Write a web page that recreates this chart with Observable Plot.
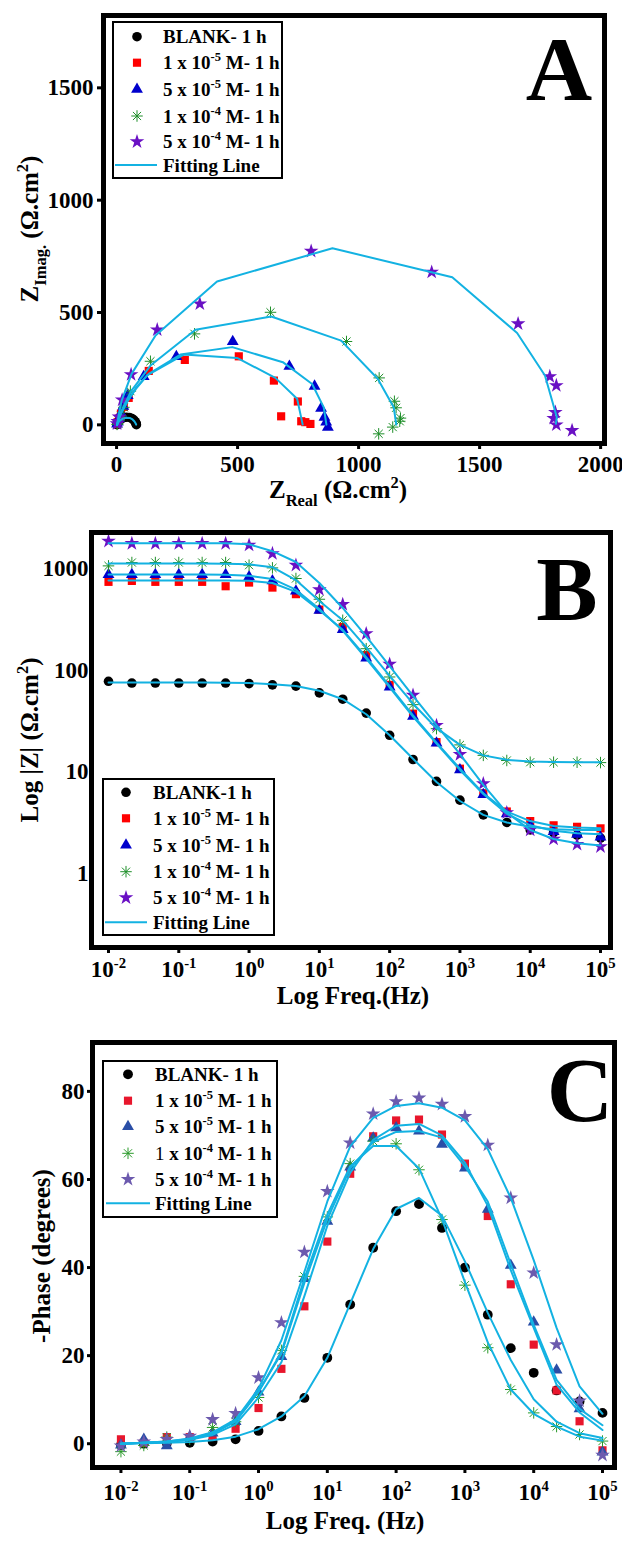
<!DOCTYPE html>
<html><head><meta charset="utf-8">
<script src="https://cdn.jsdelivr.net/npm/d3@7"></script>
<script src="https://cdn.jsdelivr.net/npm/@observablehq/plot@0.6"></script>
<style>
body{margin:0;background:#fff;}
#root{width:622px;}
#root svg{display:block;}
</style></head><body><div id="root"></div>
<script>
// ================= DATA =================
// ---- Panel A : Nyquist (Z real / Z imag, ohm.cm2) ----
const nyqBlankRe = [2, 3, 4, 6, 10, 17, 27, 40, 53, 64, 72, 77, 80, 81, 82];
const nyqBlankIm = [1, 3, 6, 11, 18, 25, 31, 34, 33, 28, 21, 14, 8, 4, 1];
const fitBlankRe = [2, 4, 8, 15, 26, 40, 54, 66, 74, 79, 81];
const fitBlankIm = [0, 5, 12, 20, 28, 32, 31, 24, 15, 6, 1];

const nyqR1Re = [2, 5, 10, 18, 30, 50, 133, 282, 505, 650, 749, 680, 763, 780, 801];
const nyqR1Im = [3, 12, 28, 50, 80, 120, 240, 289, 305, 197, 104, 38, 16, 12, 4];
const fitR1Re = [2, 8, 20, 45, 80, 126, 278, 498, 656, 746, 769];
const fitR1Im = [0, 22, 55, 105, 160, 220, 313, 298, 209, 116, 1];

const nyqB5Re = [2, 5, 10, 18, 28, 46, 112, 247, 480, 714, 818, 845, 859, 866, 873];
const nyqB5Im = [3, 12, 28, 52, 82, 130, 215, 304, 371, 260, 172, 74, 34, 12, -11];
const fitB5Re = [2, 8, 20, 45, 80, 133, 264, 478, 687, 808, 856, 867];
const fitB5Im = [0, 22, 55, 105, 165, 227, 313, 346, 279, 182, 78, 1];

const nyqG1Re = [2, 5, 10, 18, 30, 57, 140, 322, 636, 950, 1085, 1148, 1155, 1173, 1170, 1141, 1083];
const nyqG1Im = [2, 8, 20, 40, 78, 150, 283, 405, 501, 371, 209, 105, 76, 30, 16, -10, -40];
const fitG1Re = [2, 8, 18, 35, 60, 140, 326, 639, 928, 1079, 1145, 1156];
const fitG1Im = [0, 25, 55, 95, 150, 264, 423, 482, 375, 205, 78, 1];

const nyqP5Re = [2, 5, 10, 23, 60, 168, 344, 804, 1302, 1659, 1790, 1817, 1813, 1806, 1817, 1882];
const nyqP5Im = [5, 15, 35, 111, 224, 423, 539, 773, 680, 450, 215, 175, 56, 29, 0, -25];
const fitP5Re = [2, 8, 21, 62, 161, 415, 892, 1387, 1655, 1770, 1819, 1815];
const fitP5Im = [0, 40, 108, 227, 398, 638, 786, 657, 409, 220, 34, 5];

// ---- Frequencies (Hz) for panels B and C ----
const freq = [0.01, 0.0215, 0.0464, 0.1, 0.215, 0.464, 1, 2.15, 4.64, 10, 21.5, 46.4,
              100, 215, 464, 1000, 2150, 4640, 10000, 21500, 46400, 100000];

// ---- Panel B : |Z| (ohm.cm2) ----
const bodeBlank = [78, 75, 75, 75, 75, 75, 74, 72, 70, 60, 52, 38, 23, 13.3, 8.1, 5.3, 3.8, 3.2, 2.7, 2.55, 2.4, 2.25];
const bodeR1 = [740, 756, 740, 740, 740, 670, 728, 650, 560, 395, 267, 141, 72, 37.5, 19.7, 10.8, 6.2, 4.1, 3.3, 3.0, 2.9, 2.8];
const bodeB5 = [873, 873, 873, 873, 873, 873, 828, 756, 599, 389, 251, 132, 68.5, 35.3, 19.3, 10.5, 6.0, 3.9, 3.0, 2.6, 2.45, 2.3];
const bodeG1 = [1062, 1146, 1146, 1146, 1146, 1146, 1079, 1015, 798, 499, 310, 163, 86, 46, 26.7, 18.5, 14.6, 13, 12.5, 12.5, 12.5, 12.4];
const bodeP5 = [1857, 1762, 1762, 1762, 1762, 1762, 1700, 1405, 1079, 621, 445, 229, 115, 57, 28.8, 14.9, 7.7, 4.0, 2.7, 2.2, 1.95, 1.85];

const fitBodeBlank = [76, 76, 76, 76, 76, 75.5, 75, 73, 70, 63, 52, 37, 23, 13.5, 8, 5.2, 3.8, 3.2, 2.9, 2.75, 2.7, 2.7];
const fitBodeR1 = [765, 765, 765, 765, 765, 763, 758, 720, 590, 390, 250, 135, 70, 36, 19.5, 10.8, 6.2, 4.1, 3.3, 2.95, 2.85, 2.8];
const fitBodeB5 = [875, 875, 875, 875, 875, 870, 850, 790, 620, 400, 245, 130, 68, 35, 19, 10.5, 6.1, 3.9, 3.0, 2.65, 2.5, 2.45];
const fitBodeG1 = [1120, 1120, 1120, 1120, 1120, 1115, 1100, 1030, 770, 480, 310, 168, 88, 47, 27, 18.5, 14.6, 13.2, 12.7, 12.55, 12.5, 12.5];
const fitBodeP5 = [1775, 1775, 1775, 1775, 1775, 1770, 1730, 1480, 1160, 720, 410, 215, 110, 56, 29, 15, 7.5, 4.0, 2.7, 2.2, 2.0, 1.9];

// ---- Panel C : -Phase (degrees) ----
const phBlank = [-0.3, 0, 0.1, 0.2, 0.5, 1.0, 2.9, 6.2, 10.4, 19.5, 31.6, 44.5, 52.8, 54.4, 49.0, 40.0, 29.3, 21.7, 16.1, 12.1, 9.6, 7.0];
const phR1 = [1.0, 0.2, 1.5, 1.5, 1.7, 3.4, 8.1, 17.0, 31.2, 45.9, 61.3, 69.8, 73.4, 73.6, 70.2, 63.6, 51.7, 36.2, 22.5, 12.1, 5.1, -1.5];
const phB5 = [-0.3, 1.0, -0.5, 1.5, 2.4, 5.0, 11.7, 19.8, 37.5, 50.5, 62.8, 69.4, 71.7, 71.0, 68.0, 62.6, 53.2, 40.5, 27.6, 16.7, 7.9, -1.9];
const phG1 = [-1.8, -0.4, 1.5, 1.0, 3.7, 5.0, 10.5, 21.2, 38.0, 51.5, 63.6, 68.7, 68.1, 62.2, 50.9, 36.0, 21.8, 12.3, 7.0, 3.9, 2.1, 0.6];
const phP5 = [-0.5, 0.4, 1.0, 1.7, 5.5, 6.9, 15.0, 27.5, 43.5, 57.3, 68.3, 74.9, 77.7, 78.5, 77.1, 74.3, 67.8, 55.8, 38.8, 22.5, 9.7, -2.6];

const fitPhBlank = [0, 0.1, 0.2, 0.4, 0.8, 1.6, 3.3, 6.2, 10.8, 19.5, 31.8, 44.2, 53.3, 55.8, 51.8, 41.4, 29.7, 19.0, 10.1, 5.0, 2.4, 1.3];
const fitPhR1 = [0, 0.2, 0.4, 0.9, 2.0, 4.4, 10.5, 18.5, 33.5, 49.5, 61.5, 69, 72.2, 72.6, 70.0, 63.8, 54.0, 39.4, 26.3, 13.4, 7.1, 3.1];
const fitPhB5 = [0, 0.2, 0.4, 1.0, 2.3, 5.0, 11.8, 20.5, 36.5, 51, 62.5, 68.5, 70.8, 71.0, 69.5, 63.0, 55.0, 40.8, 27.0, 14.5, 7.9, 4.2];
const fitPhG1 = [0, 0.2, 0.5, 1.1, 2.5, 5.2, 11.8, 20.8, 37.5, 52, 63, 67.6, 67.6, 62.5, 51.0, 36.7, 23.0, 12.3, 6.8, 3.9, 1.6, 0.7];
const fitPhP5 = [0, 0.2, 0.5, 1.2, 2.6, 5.5, 12.5, 23.5, 39, 55, 67.5, 74, 76.7, 77.3, 76.3, 73.4, 66.9, 55.8, 41.7, 26.3, 13.0, 6.8];

// ---- Tick values / labels ----
const nyqXTicks = [0, 500, 1000, 1500, 2000];
const nyqYTicks = [0, 500, 1000, 1500];
const bodeYTicks = [1, 10, 100, 1000];
const phaseYTicks = [0, 20, 40, 60, 80];
const freqTicks = [0.01, 0.1, 1, 10, 100, 1000, 10000, 100000];
const freqTickLabels = ["10^-2", "10^-1", "10^0", "10^1", "10^2", "10^3", "10^4", "10^5"];

// ================= STYLE =================
const FONT = "'Liberation Serif', 'Times New Roman', serif";
const FIT = "#13b2e2";
const TICKFS = 23;
const TITLEFS = 25;
const asterisk8 = {
  draw(ctx, size) {
    const r = Math.sqrt(size / Math.PI) * 1.15, d = r * Math.SQRT1_2;
    ctx.moveTo(-r, 0); ctx.lineTo(r, 0); ctx.moveTo(0, -r); ctx.lineTo(0, r);
    ctx.moveTo(-d, -d); ctx.lineTo(d, d); ctx.moveTo(-d, d); ctx.lineTo(d, -d);
  }
};
const stylesAB = [
  {symbol: "circle", fill: "#000000", r: 4.8},
  {symbol: "square", fill: "#ff0000", r: 4.6},
  {symbol: "triangle", fill: "#0000cc", r: 4.4},
  {symbol: asterisk8, stroke: "#1f8f2a", r: 5},
  {symbol: "star", fill: "#6a10c4", r: 4.6}
];
const stylesC = [
  {symbol: "circle", fill: "#000000", r: 4.9},
  {symbol: "square", fill: "#e8162c", r: 4.6},
  {symbol: "triangle", fill: "#2a4ea6", r: 4.4},
  {symbol: asterisk8, stroke: "#2a9a2a", r: 5},
  {symbol: "star", fill: "#6c5aae", r: 4.6}
];
const axisFont = {fontFamily: FONT, fontWeight: "bold", fontSize: TICKFS};

function dotMark(xs, ys, st) {
  const o = {x: xs, y: ys, symbol: st.symbol, r: st.r};
  if (st.stroke) { o.stroke = st.stroke; o.fill = "none"; o.strokeWidth = 1; }
  else { o.fill = st.fill; o.stroke = "none"; }
  return Plot.dot(ys, o);
}
function fitMark(xs, ys) {
  return Plot.line(ys, {x: xs, y: ys, stroke: FIT, strokeWidth: 2});
}

// rich text helper (sub/superscripts)
function addRich(parent, {x, y, rotate = 0, fs, anchor = "middle"}, parts) {
  const t = d3.select(parent).append("text")
    .attr("transform", `translate(${x},${y}) rotate(${rotate})`)
    .attr("text-anchor", anchor).attr("font-family", FONT).attr("font-weight", "bold")
    .attr("font-size", fs).attr("fill", "black");
  let shift = 0;
  for (const p of parts) {
    const target = p.sup ? -0.42 * fs : p.sub ? 0.32 * fs : 0;
    const ts = t.append("tspan").attr("dy", target - shift).text(p.t);
    shift = target;
    if (p.sup || p.sub) ts.attr("font-size", 0.66 * fs);
    if (p.normal) ts.attr("font-weight", "normal");
  }
  return t;
}
function fixTickText(svg, fs) {
  d3.select(svg).selectAll("g[aria-label$='tick label'] text")
    .attr("font-family", FONT).attr("font-weight", "bold").attr("font-size", fs).attr("fill", "black");
  d3.select(svg).selectAll("text").each(function () {
    const m = /^10\^(.+)$/.exec(this.textContent);
    if (!m) return;
    const s = d3.select(this); s.text(null);
    s.append("tspan").text("10");
    s.append("tspan").attr("dy", -0.4 * fs).attr("font-size", 0.64 * fs).text(m[1]);
  });
}
function addLegend(svg, cfg, styles) {
  const g = d3.select(svg).append("g");
  g.append("rect").attr("x", cfg.x0).attr("y", cfg.y0).attr("width", cfg.x1 - cfg.x0)
    .attr("height", cfg.y1 - cfg.y0).attr("fill", "white").attr("stroke", "black").attr("stroke-width", 2);
  cfg.labels.forEach((parts, i) => {
    const y = cfg.ys[i];
    if (i < 5) {
      const st = styles[i];
      const typ = typeof st.symbol === "string"
        ? {circle: d3.symbolCircle, square: d3.symbolSquare, triangle: d3.symbolTriangle, star: d3.symbolStar}[st.symbol]
        : st.symbol;
      const p = g.append("path").attr("transform", `translate(${cfg.sx},${y})`)
        .attr("d", d3.symbol(typ, Math.PI * st.r * st.r)());
      if (st.stroke) p.attr("fill", "none").attr("stroke", st.stroke).attr("stroke-width", 1);
      else p.attr("fill", st.fill);
    } else {
      g.append("line").attr("x1", cfg.lx0).attr("x2", cfg.lx1).attr("y1", y).attr("y2", y)
        .attr("stroke", FIT).attr("stroke-width", 2);
    }
    addRich(g.node(), {x: cfg.tx, y: y + 0.35 * cfg.fs, fs: cfg.fs, anchor: "start"}, parts);
  });
}
const legendLabels = (blank, normalOne) => [
  [{t: blank}],
  [{t: "1 x 10"}, {t: "-5", sup: true}, {t: " M- 1 h"}],
  [{t: "5 x 10"}, {t: "-5", sup: true}, {t: " M- 1 h"}],
  normalOne ? [{t: "1", normal: true}, {t: " x 10"}, {t: "-4", sup: true}, {t: " M- 1 h"}]
            : [{t: "1 x 10"}, {t: "-4", sup: true}, {t: " M- 1 h"}],
  [{t: "5 x 10"}, {t: "-4", sup: true}, {t: " M- 1 h"}],
  [{t: "Fitting Line"}]
];
function bigLetter(svg, ch, x, y) {
  d3.select(svg).append("text").attr("x", x).attr("y", y).attr("text-anchor", "middle")
    .attr("font-family", FONT).attr("font-weight", "bold").attr("font-size", 92).text(ch);
}
const baseStyle = {fontFamily: FONT, fontWeight: "bold", fontSize: TICKFS + "px", color: "black", background: "white", overflow: "visible"};
const plain = d => String(d);

// ================= PANEL A =================
const svgA = Plot.plot({
  width: 622, height: 505, marginTop: 15, marginBottom: 62, marginLeft: 103, marginRight: 18,
  style: baseStyle,
  x: {domain: [-54, 2016]}, y: {domain: [-83, 1822]},
  marks: [
    dotMark(nyqBlankRe, nyqBlankIm, stylesAB[0]),
    dotMark(nyqR1Re, nyqR1Im, stylesAB[1]),
    dotMark(nyqB5Re, nyqB5Im, stylesAB[2]),
    dotMark(nyqG1Re, nyqG1Im, stylesAB[3]),
    dotMark(nyqP5Re, nyqP5Im, stylesAB[4]),
    fitMark(fitBlankRe, fitBlankIm), fitMark(fitR1Re, fitR1Im), fitMark(fitB5Re, fitB5Im),
    fitMark(fitG1Re, fitG1Im), fitMark(fitP5Re, fitP5Im),
    Plot.axisX({ticks: nyqXTicks, tickSize: 6, tickPadding: 6, strokeWidth: 3, label: null, tickFormat: plain, ...axisFont}),
    Plot.axisY({ticks: nyqYTicks, tickSize: 6, tickPadding: 4, strokeWidth: 3, label: null, tickFormat: plain, ...axisFont}),
    Plot.frame({stroke: "black", strokeWidth: 5})
  ]
});
fixTickText(svgA, TICKFS);
addRich(svgA, {x: 38, y: 229, rotate: -90, fs: TITLEFS},
  [{t: "Z"}, {t: "Imag.", sub: true}, {t: " (Ω.cm"}, {t: "2", sup: true}, {t: ")"}]);
addRich(svgA, {x: 338, y: 498, fs: TITLEFS},
  [{t: "Z"}, {t: "Real", sub: true}, {t: " (Ω.cm"}, {t: "2", sup: true}, {t: ")"}]);
addLegend(svgA, {x0: 113, y0: 22, x1: 282, y1: 178, sx: 137, tx: 163, lx0: 115, lx1: 157, fs: 19,
  ys: [36.7, 62.7, 89.3, 116, 141.7, 165], labels: legendLabels("BLANK- 1 h", false)}, stylesAB);
bigLetter(svgA, "A", 559, 100);

// ================= PANEL B =================
const svgB = Plot.plot({
  width: 622, height: 505, marginTop: 27, marginBottom: 63, marginLeft: 91, marginRight: 12,
  style: baseStyle,
  x: {type: "log", domain: [0.00573, 138700]},
  y: {type: "log", domain: [0.189, 2260]},
  marks: [
    dotMark(freq, bodeBlank, stylesAB[0]),
    dotMark(freq, bodeR1, stylesAB[1]),
    dotMark(freq, bodeB5, stylesAB[2]),
    dotMark(freq, bodeG1, stylesAB[3]),
    dotMark(freq, bodeP5, stylesAB[4]),
    fitMark(freq, fitBodeBlank), fitMark(freq, fitBodeR1), fitMark(freq, fitBodeB5),
    fitMark(freq, fitBodeG1), fitMark(freq, fitBodeP5),
    Plot.axisX({ticks: 40, tickSize: 3, strokeWidth: 2, tickFormat: () => "", label: null}),
    Plot.axisX({ticks: freqTicks, tickSize: 6, tickPadding: 7, strokeWidth: 3, label: null,
      tickFormat: d => freqTickLabels[freqTicks.indexOf(d)], ...axisFont}),
    Plot.axisY({ticks: bodeYTicks, tickSize: 0, tickPadding: 3, label: null, tickFormat: plain, ...axisFont}),
    Plot.frame({stroke: "black", strokeWidth: 5})
  ]
});
fixTickText(svgB, TICKFS);
addRich(svgB, {x: 38, y: 235, rotate: -90, fs: TITLEFS},
  [{t: "Log |Z| (Ω.cm"}, {t: "2", sup: true}, {t: ")"}]);
addRich(svgB, {x: 353, y: 499, fs: TITLEFS}, [{t: "Log Freq.(Hz)"}]);
addLegend(svgB, {x0: 103, y0: 274, x1: 274, y1: 430, sx: 126, tx: 153, lx0: 105, lx1: 147, fs: 19,
  ys: [287.3, 313.3, 340, 366.7, 392.7, 417.3], labels: legendLabels("BLANK-1 h", false)}, stylesAB);
bigLetter(svgB, "B", 567, 115);

// ================= PANEL C =================
const svgC = Plot.plot({
  width: 622, height: 534, marginTop: 32, marginBottom: 77, marginLeft: 92, marginRight: 8,
  style: baseStyle,
  x: {type: "log", domain: [0.00386, 149400]},
  y: {domain: [-5.4, 91.1]},
  marks: [
    dotMark(freq, phBlank, stylesC[0]),
    dotMark(freq, phR1, stylesC[1]),
    dotMark(freq, phB5, stylesC[2]),
    dotMark(freq, phG1, stylesC[3]),
    dotMark(freq, phP5, stylesC[4]),
    fitMark(freq, fitPhBlank), fitMark(freq, fitPhR1), fitMark(freq, fitPhB5),
    fitMark(freq, fitPhG1), fitMark(freq, fitPhP5),
    Plot.axisX({ticks: 40, tickSize: 3, strokeWidth: 2, tickFormat: () => "", label: null}),
    Plot.axisX({ticks: freqTicks, tickSize: 6, tickPadding: 10, strokeWidth: 3, label: null,
      tickFormat: d => freqTickLabels[freqTicks.indexOf(d)], ...axisFont}),
    Plot.axisY({ticks: phaseYTicks, tickSize: 5, tickPadding: 3, strokeWidth: 3, label: null, tickFormat: plain, ...axisFont}),
    Plot.frame({stroke: "black", strokeWidth: 5})
  ]
});
fixTickText(svgC, TICKFS);
addRich(svgC, {x: 50, y: 246, rotate: -90, fs: TITLEFS}, [{t: "-Phase (degrees)"}]);
addRich(svgC, {x: 345, y: 519, fs: TITLEFS}, [{t: "Log Freq. (Hz)"}]);
addLegend(svgC, {x0: 103, y0: 51, x1: 277, y1: 207, sx: 128, tx: 155, lx0: 106, lx1: 150, fs: 19,
  ys: [64.3, 90.7, 116.7, 143.3, 169.3, 193.3], labels: legendLabels("BLANK- 1 h", true)}, stylesC);
bigLetter(svgC, "C", 580, 111);

const root = document.getElementById("root");
root.append(svgA, svgB, svgC);
</script></body></html>
